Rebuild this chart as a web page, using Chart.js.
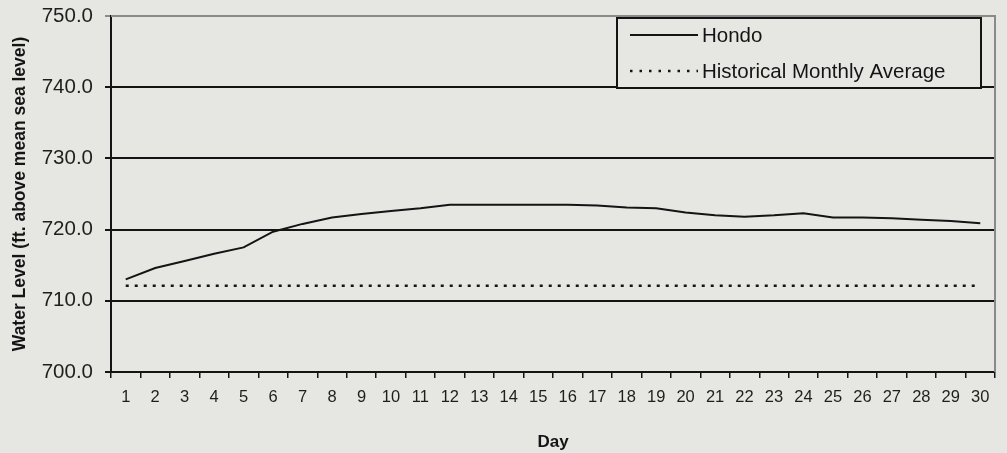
<!DOCTYPE html>
<html>
<head>
<meta charset="utf-8">
<script src="https://cdn.jsdelivr.net/npm/chart.js@4"></script>
<style>
  html, body { margin: 0; padding: 0; background: #e6e7e3; }
  #wrap { width: 1007px; height: 453px; position: relative; }
</style>
</head>
<body>
<div id="wrap"><canvas id="c" width="1007" height="453"></canvas></div>
<script>
const days = ['1','2','3','4','5','6','7','8','9','10','11','12','13','14','15','16','17','18','19','20','21','22','23','24','25','26','27','28','29','30'];
const hondo = [713.0, 714.6, 715.6, 716.6, 717.5, 719.7, 720.8, 721.7, 722.2, 722.6, 723.0, 723.5, 723.5, 723.5, 723.5, 723.5, 723.4, 723.1, 723.0, 722.4, 722.0, 721.8, 722.0, 722.3, 721.7, 721.7, 721.6, 721.4, 721.2, 720.9];
const histAvg = [712.1, 712.1, 712.1, 712.1, 712.1, 712.1, 712.1, 712.1, 712.1, 712.1, 712.1, 712.1, 712.1, 712.1, 712.1, 712.1, 712.1, 712.1, 712.1, 712.1, 712.1, 712.1, 712.1, 712.1, 712.1, 712.1, 712.1, 712.1, 712.1, 712.1];
const yMin = 700, yMax = 750, yStep = 10;

const FONT = "'Liberation Sans', Arial, sans-serif";
const INK = '#141414';

const boxLegend = {
  id: 'boxLegend',
  afterDraw(chart) {
    const {ctx} = chart;
    const x0 = 617, y0 = 18, w = 364, h = 70;
    ctx.save();
    ctx.fillStyle = '#e6e7e3';
    ctx.fillRect(x0, y0, w, h);
    ctx.strokeStyle = INK;
    ctx.lineWidth = 2;
    ctx.strokeRect(x0, y0, w, h);
    const items = chart.data.datasets;
    const rows = [35, 71];
    items.forEach((ds, i) => {
      const y = rows[i];
      ctx.beginPath();
      ctx.setLineDash(ds.legendDash || []);
      ctx.lineWidth = ds.borderWidth;
      ctx.strokeStyle = ds.borderColor;
      ctx.moveTo(630, y);
      ctx.lineTo(698, y);
      ctx.stroke();
      ctx.setLineDash([]);
      ctx.fillStyle = INK;
      ctx.font = "20.5px " + FONT;
      ctx.textBaseline = 'middle';
      ctx.textAlign = 'left';
      ctx.fillText(ds.label, 702, y + 1);
    });
    ctx.restore();
  }
};

const frame = {
  id: 'frame',
  beforeDatasetsDraw(chart) {
    const {ctx, chartArea: a} = chart;
    ctx.save();
    ctx.strokeStyle = '#8a8a8a';
    ctx.lineWidth = 2;
    ctx.beginPath();
    ctx.moveTo(a.left, a.top);
    ctx.lineTo(a.right, a.top);
    ctx.lineTo(a.right, a.bottom);
    ctx.stroke();
    ctx.restore();
  }
};

new Chart(document.getElementById('c'), {
  type: 'line',
  data: {
    labels: days,
    datasets: [
      {
        label: 'Hondo',
        data: hondo,
        borderColor: INK,
        borderWidth: 2,
        pointRadius: 0,
        tension: 0,
        fill: false
      },
      {
        label: 'Historical Monthly Average',
        data: histAvg,
        borderColor: INK,
        borderWidth: 2.5,
        borderDash: [3, 6],
        legendDash: [2.5, 7],
        pointRadius: 0,
        tension: 0,
        fill: false
      }
    ]
  },
  options: {
    responsive: false,
    animation: false,
    devicePixelRatio: 1,
    layout: { padding: { left: 0, right: 12, top: 16, bottom: 0 } },
    plugins: {
      legend: { display: false },
      tooltip: { enabled: false }
    },
    scales: {
      x: {
        type: 'category',
        offset: true,
        grid: {
          display: true,
          drawOnChartArea: false,
          drawTicks: true,
          offset: true,
          tickLength: 6,
          color: INK,
          lineWidth: 1.5
        },
        border: { display: true, color: INK, width: 2 },
        ticks: {
          color: '#1e1e1e',
          font: { family: FONT, size: 16.5 },
          padding: 10,
          maxRotation: 0,
          autoSkip: false
        },
        title: {
          display: true,
          text: 'Day',
          color: INK,
          font: { family: FONT, size: 17, weight: 'bold' },
          padding: { top: 0, bottom: 0 }
        },
        afterFit(scale) { scale.height = 81; scale.paddingLeft = 0; scale.paddingRight = 0; }
      },
      y: {
        min: yMin,
        max: yMax,
        ticks: {
          stepSize: yStep,
          color: '#1e1e1e',
          font: { family: FONT, size: 20.5 },
          padding: 12,
          callback: v => v.toFixed(1)
        },
        grid: {
          color: ctx => (ctx.tick && ctx.tick.value === yMax) ? '#8a8a8a' : INK,
          lineWidth: 2,
          tickLength: 6,
          drawTicks: true
        },
        border: { display: true, color: INK, width: 2 },
        title: {
          display: true,
          text: 'Water Level (ft. above mean sea level)',
          color: INK,
          font: { family: FONT, size: 17.5, weight: 'bold' },
          padding: { top: 10, bottom: 0 }
        },
        afterFit(scale) { scale.width = 111; scale.paddingTop = 0; scale.paddingBottom = 0; }
      }
    }
  },
  plugins: [frame, boxLegend]
});
</script>
</body>
</html>
